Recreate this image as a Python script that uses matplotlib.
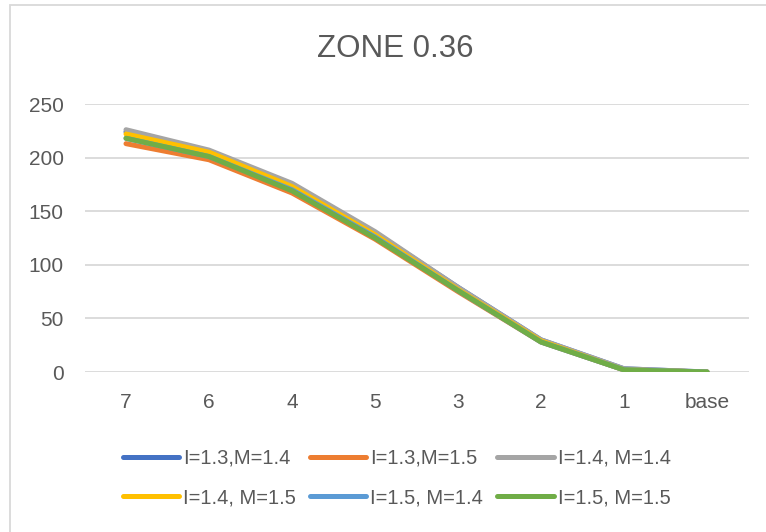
import matplotlib
matplotlib.use("Agg")
import matplotlib.pyplot as plt
from matplotlib.patches import Rectangle

plt.rcParams['font.family'] = ['Liberation Sans', 'DejaVu Sans']

categories = ["7", "6", "4", "5", "3", "2", "1", "base"]
i13_m14 = [224, 206, 175, 130, 79, 30, 3, 0]
i13_m15 = [213, 198, 167, 124, 75, 28, 2, 0]
i14_m14 = [226, 207, 176, 131, 79, 30, 3, 0]
i14_m15 = [222, 205, 173, 128, 77, 29, 2, 0]
i15_m14 = [218, 201, 170, 126, 76, 28, 2, 0]
i15_m15 = [218, 201, 169, 125, 76, 28, 2, 0]

series = [
    ("I=1.3,M=1.4", i13_m14, "#4472c4"),
    ("I=1.3,M=1.5", i13_m15, "#ed7d31"),
    ("I=1.4, M=1.4", i14_m14, "#a5a5a5"),
    ("I=1.4, M=1.5", i14_m15, "#ffc000"),
    ("I=1.5, M=1.4", i15_m14, "#5b9bd5"),
    ("I=1.5, M=1.5", i15_m15, "#70ad47"),
]
yticks = [0, 50, 100, 150, 200, 250]
txt = "#595959"

fig = plt.figure(figsize=(7.66, 5.32), dpi=100)
fig.patches.append(Rectangle((10 / 766, -0.05), 1.1, 1 - 5 / 532 + 0.05, transform=fig.transFigure,
                             fill=False, edgecolor="#d9d9d9", lw=1.3))
ax = fig.add_axes([84.5 / 766, 1 - 372 / 532, 664 / 766, 268 / 532])

x = list(range(len(categories)))
lines = []
for name, vals, col in series:
    ln, = ax.plot(x, vals, color=col, lw=3.6, solid_capstyle="round", label=name)
    lines.append(ln)

ax.set_xlim(-0.5, len(categories) - 0.5)
ax.set_ylim(0, 250)
ax.set_yticks(yticks)
ax.set_xticks(x)
ax.set_xticklabels(categories)
ax.grid(axis="y", color="#d9d9d9", lw=1.3)
ax.set_axisbelow(True)
for s in ax.spines.values():
    s.set_visible(False)
ax.tick_params(length=0, labelsize=15, colors=txt)
ax.tick_params(axis="x", pad=15)
ax.tick_params(axis="y", pad=15)

fig.text(395 / 766, 1 - 49 / 532, "ZONE 0.36", ha="center", va="center", fontsize=22.5, color=txt)

# legend fills row by row, 3 per row
order = [0, 3, 1, 4, 2, 5]
fig.legend([lines[i] for i in order], [series[i][0] for i in order],
           loc="center", bbox_to_anchor=(0.518, 1 - 478 / 532), ncol=3, frameon=False,
           fontsize=14.5, labelcolor=txt, handlelength=2.8, handletextpad=0.2, columnspacing=0.7,
           labelspacing=1.0)

fig.savefig("out.png", dpi=100)
